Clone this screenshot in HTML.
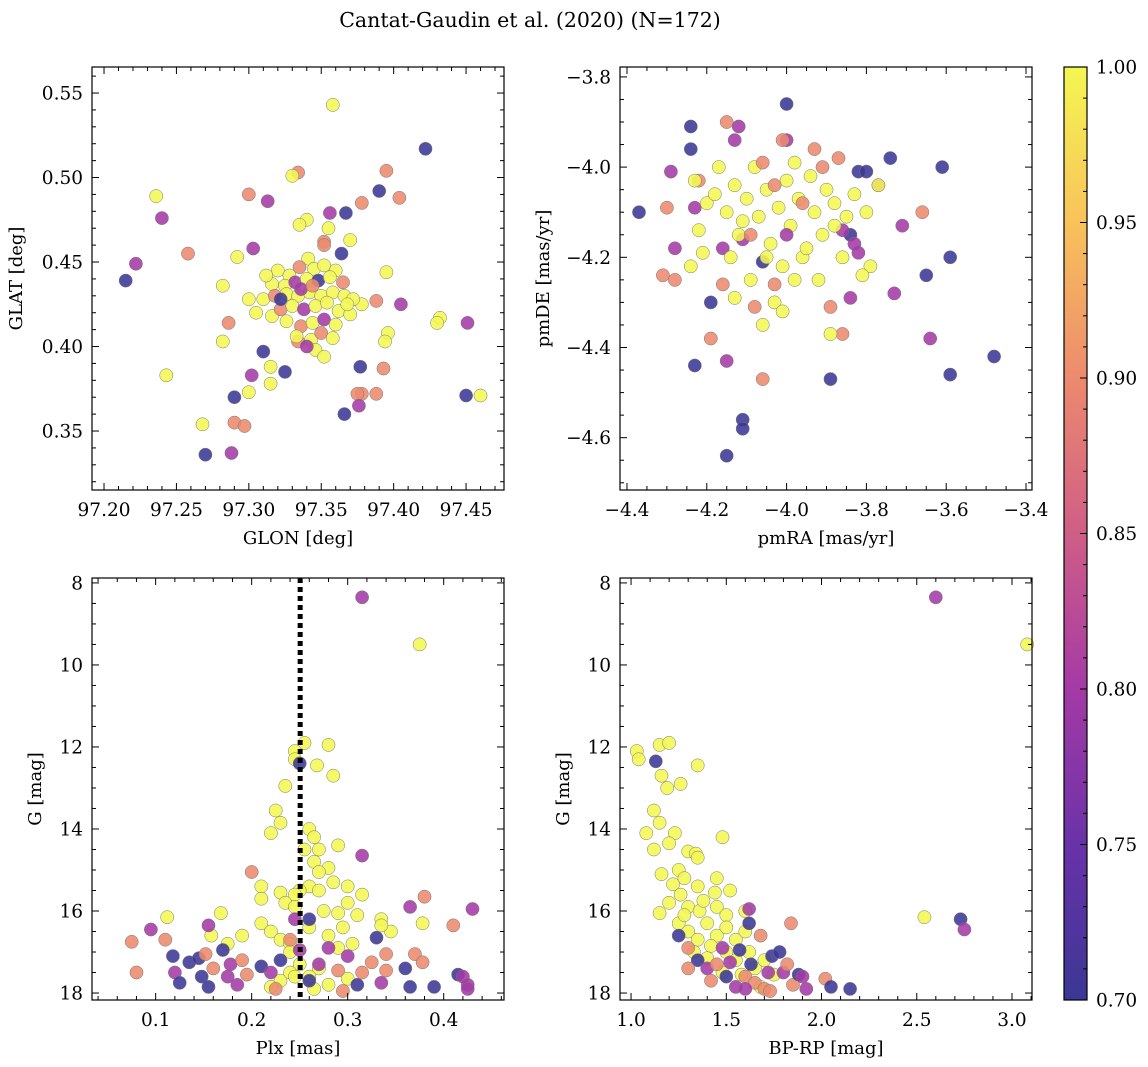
<!DOCTYPE html>
<html><head><meta charset="utf-8">
<style>
html,body{margin:0;padding:0;background:#fff;}
svg{display:block;font-family:"DejaVu Serif","Liberation Serif",serif;}
</style></head>
<body>
<svg id="fig" width="1148" height="1067" viewBox="0 0 1148 1067" xmlns="http://www.w3.org/2000/svg">
<text x="530" y="27" font-size="20.5" text-anchor="middle">Cantat-Gaudin et al. (2020) (N=172)</text>
<defs>
<linearGradient id="cmap" x1="0" y1="1" x2="0" y2="0">
<stop offset="0" stop-color="#3b3795"/><stop offset="0.1667" stop-color="#6a32a8"/>
<stop offset="0.3333" stop-color="#a43aa6"/><stop offset="0.5" stop-color="#cf5e86"/>
<stop offset="0.6667" stop-color="#ec8a6e"/><stop offset="0.8333" stop-color="#f9c25a"/>
<stop offset="1" stop-color="#f4f752"/>
</linearGradient>
</defs>
<g id="plots"></g>
</svg>
<script>
// ---- Panel 1: GLON vs GLAT ----
const p1_glon=[97.358,97.422,97.334,97.330,97.395,97.390,97.404,97.236,97.300,97.313,97.378,97.367,97.356,97.240,97.340,97.335,97.355,97.303,97.352,97.370,97.352,97.258,97.364,97.341,97.292,97.215,97.222,97.282,97.395,97.388,97.378,97.405,97.286,97.316,97.432,97.430,97.451,97.282,97.334,97.310,97.396,97.394,97.243,97.302,97.315,97.315,97.325,97.393,97.377,97.378,97.375,97.388,97.376,97.300,97.290,97.366,97.450,97.460,97.268,97.290,97.297,97.270,97.288,
97.320,97.328,97.335,97.345,97.352,97.360,97.316,97.325,97.332,97.340,97.348,97.356,97.365,97.310,97.318,97.326,97.334,97.342,97.350,97.358,97.366,97.372,97.305,97.322,97.330,97.338,97.346,97.354,97.362,97.370,97.326,97.336,97.344,97.352,97.360,97.333,97.343,97.350,97.358,97.346,97.352,97.340,97.336,97.344,97.322,97.368,97.300,97.312];
const p1_glat=[0.543,0.517,0.503,0.501,0.504,0.492,0.488,0.489,0.490,0.486,0.485,0.479,0.479,0.476,0.475,0.472,0.470,0.458,0.462,0.463,0.460,0.455,0.455,0.452,0.453,0.439,0.449,0.436,0.444,0.427,0.425,0.425,0.414,0.418,0.417,0.414,0.414,0.403,0.403,0.397,0.408,0.403,0.383,0.383,0.388,0.378,0.385,0.387,0.388,0.372,0.372,0.372,0.365,0.373,0.370,0.360,0.371,0.371,0.354,0.355,0.353,0.336,0.337,
0.445,0.442,0.447,0.446,0.448,0.445,0.437,0.436,0.438,0.440,0.439,0.441,0.438,0.428,0.430,0.431,0.430,0.432,0.430,0.432,0.430,0.428,0.420,0.422,0.424,0.422,0.424,0.426,0.421,0.419,0.415,0.412,0.414,0.416,0.413,0.406,0.404,0.408,0.405,0.398,0.394,0.400,0.434,0.436,0.428,0.425,0.428,0.442];
const p1_prob=[1,0.7,0.9,1,0.9,0.7,0.9,1,0.9,0.8,0.9,0.7,0.8,0.8,1,1,1,0.8,0.9,1,0.9,0.9,0.7,1,1,0.7,0.8,1,1,0.9,1,0.8,0.9,1,1,1,0.8,1,0.9,0.7,1,1,1,0.8,1,1,0.7,0.9,0.7,0.9,0.9,0.9,0.8,1,0.7,0.7,0.7,1,1,0.9,0.9,0.7,0.8,
1,1,0.9,1,1,1,1,1,0.8,1,0.7,1,0.9,1,0.9,1,1,1,1,1,1,1,1,0.9,1,0.8,1,1,1,1,1,0.9,1,0.8,1,1,1,0.9,1,1,1,0.8,0.8,0.9,0.7,1,1,1];

// ---- Panel 2: pmRA vs pmDE ----
const p2_pmra=[-4.37,-4.24,-4.24,-4.29,-4.30,-4.31,-4.28,-4.28,-4.23,-4.19,-4.19,-4.15,-4.15,-4.11,-4.11,-4.06,-4.00,-4.00,-4.01,-3.89,-3.86,-3.89,-3.89,-3.84,-3.82,-3.80,-3.74,-3.77,-3.71,-3.66,-3.61,-3.59,-3.59,-3.64,-3.65,-3.48,-3.73,-3.87,-3.93,-4.15,-4.13,-4.12,-3.82,-3.84,-3.86,-3.83,-4.23,-4.22,-4.08,-4.06,-4.03,-4.01,-4.06,-4.11,-4.16,-4.16,-4.03,-3.79,-3.81,-3.77,
-4.23,-4.22,-4.20,-4.18,-4.15,-4.13,-4.12,-4.10,-4.08,-4.07,-4.05,-4.04,-4.02,-4.00,-3.99,-3.97,-3.96,-3.94,-3.93,-3.91,-3.90,-3.88,-3.86,-3.85,-3.83,-4.14,-4.09,-4.05,-4.01,-3.98,-3.95,-4.17,-4.11,-3.98,-3.92,-4.21,-4.24,-4.03,-3.96,-4.09,-3.91,-4.06,-3.88,-4.13,-3.80,-4.00];
const p2_pmde=[-4.10,-3.91,-3.96,-4.01,-4.09,-4.24,-4.25,-4.18,-4.44,-4.30,-4.38,-4.43,-4.64,-4.56,-4.58,-4.47,-3.86,-3.94,-3.94,-4.47,-4.37,-4.31,-4.37,-4.29,-4.01,-4.01,-3.98,-4.04,-4.13,-4.10,-4.00,-4.20,-4.46,-4.38,-4.24,-4.42,-4.28,-3.98,-3.96,-3.90,-3.94,-3.91,-4.19,-4.15,-4.14,-4.17,-4.09,-4.03,-4.31,-4.35,-4.30,-4.32,-4.21,-4.16,-4.18,-4.26,-4.26,-4.22,-4.24,-4.04,
-4.03,-4.14,-4.08,-4.06,-4.10,-4.04,-4.15,-4.07,-4.00,-4.11,-4.05,-4.17,-4.09,-4.03,-4.13,-4.07,-4.20,-4.02,-4.10,-4.15,-4.05,-4.08,-4.20,-4.11,-4.06,-4.20,-4.25,-4.20,-4.22,-4.25,-4.18,-4.00,-4.12,-3.99,-4.25,-4.19,-4.22,-4.04,-4.08,-4.15,-4.00,-3.99,-4.13,-4.29,-4.10,-4.15];
const p2_prob=[0.7,0.7,0.7,0.8,0.9,0.9,0.9,0.8,0.7,0.7,0.9,0.8,0.7,0.7,0.7,0.9,0.7,0.8,0.9,0.7,0.9,0.9,1,0.8,0.7,0.7,0.7,0.8,0.8,0.9,0.7,0.7,0.7,0.8,0.7,0.7,0.8,0.9,0.9,0.9,0.8,0.8,0.8,0.7,0.8,0.8,0.8,0.9,0.9,1,1,1,0.7,0.8,0.8,0.9,0.9,1,1,1,
1,1,1,1,1,1,1,1,1,1,1,1,1,1,1,1,1,1,1,1,1,1,1,1,1,1,1,1,1,1,1,1,1,1,1,1,1,0.9,0.9,0.9,0.9,0.9,1,1,1,0.8];

// ---- Panel 3: Plx vs G ----
const p3_plx=[0.315,0.375,0.255,0.245,0.245,0.25,0.28,0.268,0.285,0.235,0.225,0.23,0.22,0.26,0.265,0.27,0.255,0.29,0.315,0.265,0.28,0.285,0.27,0.26,0.25,0.245,0.23,0.21,0.2,0.21,0.235,0.245,0.27,0.3,0.315,0.3,0.275,0.29,0.31,0.335,0.345,0.335,0.21,0.22,0.23,0.24,0.26,0.28,0.29,0.305,0.24,0.25,0.27,0.26,0.23,0.24,0.22,0.28,0.3,0.265,0.112,0.168,0.158,0.378,0.19,0.175,0.245,0.295,
0.075,0.08,0.095,0.11,0.118,0.12,0.125,0.135,0.145,0.148,0.152,0.155,0.155,0.16,0.17,0.175,0.178,0.185,0.19,0.195,0.21,0.22,0.225,0.23,0.24,0.25,0.26,0.27,0.29,0.295,0.3,0.31,0.315,0.325,0.33,0.335,0.34,0.36,0.365,0.365,0.37,0.378,0.38,0.39,0.41,0.415,0.42,0.425,0.425,0.43,0.245,0.26,0.28,0.34];
const p3_g=[8.35,9.5,11.9,12.1,12.3,12.4,11.95,12.45,12.7,12.95,13.55,13.85,14.1,14.0,14.2,14.5,14.5,14.4,14.65,14.8,14.95,15.3,15.05,15.4,15.5,15.6,15.55,15.4,15.05,15.7,15.8,15.9,15.5,15.4,15.6,15.8,16.0,16.05,16.1,16.2,16.5,16.35,16.3,16.5,16.7,16.8,16.4,16.6,16.9,16.8,17.0,17.3,17.4,17.6,17.7,17.5,17.85,17.8,17.65,17.9,16.15,16.05,16.6,16.3,16.6,16.8,17.6,16.4,
16.75,17.5,16.45,16.7,17.1,17.5,17.75,17.25,17.15,17.6,17.05,17.85,16.35,17.4,16.95,17.6,17.3,17.8,17.2,17.55,17.35,17.5,17.9,17.2,16.7,16.95,17.7,17.3,17.45,17.95,17.1,17.8,17.5,17.25,16.65,17.75,17.05,17.4,17.85,15.9,17.05,17.25,15.65,17.85,16.35,17.55,17.6,17.8,17.9,15.95,16.2,16.2,16.9,17.45];
const p3_prob=[0.8,1,1,1,1,0.7,1,1,1,1,1,1,1,1,1,1,1,1,0.8,1,1,1,1,1,1,1,1,1,0.9,1,1,1,1,1,1,1,1,1,1,1,1,1,1,1,1,1,1,1,1,1,1,1,1,1,1,1,1,1,1,1,1,1,1,1,1,1,1,1,
0.9,0.9,0.8,0.9,0.7,0.8,0.7,0.7,0.7,0.7,0.9,0.7,0.8,0.9,0.7,0.8,0.8,0.8,0.9,0.9,0.7,0.8,0.9,0.7,0.9,0.8,0.7,0.8,0.9,0.9,0.8,0.7,0.9,0.9,0.7,0.8,0.9,0.7,0.7,0.8,0.9,0.9,0.9,0.7,0.9,0.7,0.8,0.8,0.8,0.8,0.8,0.7,0.8,0.9];
const p3_plxRef=[0.2505];

// ---- Panel 4: BP-RP vs G ----
const p4_bprp=[2.6,3.08,2.54,2.73,2.75,1.13,1.03,1.04,1.15,1.2,1.16,1.26,1.19,1.35,1.12,1.08,1.15,1.23,1.2,1.12,1.3,1.34,1.35,1.48,1.16,1.25,1.22,1.28,1.35,1.44,1.52,1.15,1.2,1.26,1.3,1.36,1.38,1.45,1.5,1.25,1.3,1.4,1.45,1.5,1.55,1.6,1.6,1.35,1.42,1.5,1.55,1.62,1.65,1.7,1.48,1.58,1.75,1.68,1.28,1.33,1.4,1.45,
1.25,1.3,1.35,1.4,1.45,1.5,1.52,1.55,1.57,1.6,1.62,1.63,1.65,1.7,1.72,1.74,1.78,1.8,1.82,1.84,1.85,1.88,1.9,1.92,2.02,2.05,2.15,1.3,1.42,1.6,1.73,1.48,1.68,1.62];
const p4_g=[8.35,9.5,16.15,16.2,16.45,12.35,12.1,12.3,11.95,11.9,12.7,12.9,13.0,12.45,13.55,14.1,13.85,14.1,14.35,14.5,14.55,14.6,14.7,14.2,15.1,15.0,15.35,15.2,15.4,15.55,15.5,16.05,15.8,15.6,15.9,16.0,15.75,15.9,16.1,16.3,16.5,16.3,16.6,16.4,16.7,16.0,16.5,16.7,16.85,17.0,17.2,17.0,17.4,17.2,17.5,17.55,17.55,17.85,16.1,17.0,17.15,15.2,
16.6,16.9,17.2,17.4,17.3,17.6,17.25,17.85,16.95,17.6,15.95,17.3,17.75,17.9,17.5,17.1,17.0,17.5,17.3,16.3,17.8,17.55,17.6,17.9,17.65,17.85,17.9,17.4,17.7,17.9,17.95,16.9,16.6,16.3];
const p4_prob=[0.8,1,1,0.7,0.8,0.7,1,1,1,1,1,1,1,1,1,1,1,1,1,1,1,1,1,1,1,1,1,1,1,1,1,1,1,1,1,1,1,1,1,1,1,1,1,1,1,1,1,1,1,1,1,1,1,1,1,1,1,1,1,1,1,1,
0.7,0.9,0.7,0.8,0.9,0.7,0.8,0.8,0.7,0.9,0.8,0.7,0.9,0.9,0.8,0.7,0.7,0.8,0.9,0.9,0.9,0.7,0.8,0.8,0.9,0.7,0.7,0.9,0.9,0.8,0.9,0.8,0.9,0.7];

// ---- Colorbar ticks ----
const cbTicks=[0.70,0.75,0.80,0.85,0.90,0.95,1.00];

const NS="http://www.w3.org/2000/svg";
const root=document.getElementById('plots');
function mk(tag,attrs,parent){const e=document.createElementNS(NS,tag);for(const k in attrs)e.setAttribute(k,attrs[k]);(parent||root).appendChild(e);return e;}
const stops=[[0.7,[59,55,149]],[0.75,[106,50,168]],[0.8,[164,58,166]],[0.85,[207,94,134]],[0.9,[236,138,110]],[0.95,[249,194,90]],[1.0,[244,247,82]]];
function cmap(v){v=Math.max(0.7,Math.min(1,v));for(let i=0;i<stops.length-1;i++){const a=stops[i],b=stops[i+1];if(v<=b[0]){const t=(v-a[0])/(b[0]-a[0]);const c=a[1].map((x,j)=>Math.round(x+(b[1][j]-x)*t));return `rgb(${c.join(',')})`;}}return 'rgb(244,247,82)';}

const TF=18.5, LF=18;
function panel(cfg){
  const {name,L,T,R,B,x0,x1,y0,y1,xMaj,xMin,yMaj,yMin,xDec,yDec,xlabel,ylabel,xs,ys,ps,yLabX}=cfg;
  const g=mk('g',{});
  
  
  const sx=v=>L+(v-x0)/(x1-x0)*(R-L);
  const sy=v=>B-(v-y0)/(y1-y0)*(B-T);
  const cg=mk('g',{},g);
  
  
  for(let i=0;i<xs.length;i++){
    const c=mk('circle',{cx:sx(xs[i]).toFixed(1),cy:sy(ys[i]).toFixed(1),r:6.6,fill:cmap(ps[i]),'fill-opacity':0.88,stroke:'#777','stroke-width':0.5},cg);
    
    
  }
  if(cfg.extra) cfg.extra(g,sx,sy);
  const fr=mk('rect',{x:L,y:T,width:R-L,height:B-T,fill:'none',stroke:'#000','stroke-width':1.2},g);
  
  
  const lo=Math.min(x0,x1),hi=Math.max(x0,x1);
  for(let k=Math.ceil(lo/xMin-1e-6);k*xMin<=hi+1e-9;k++){
    const v=k*xMin,x=sx(v),maj=Math.abs(v/xMaj-Math.round(v/xMaj))<1e-6,len=maj?7:4;
    mk('line',{x1:x,y1:B,x2:x,y2:B-len,stroke:'#000','stroke-width':1},g);
    mk('line',{x1:x,y1:T,x2:x,y2:T+len,stroke:'#000','stroke-width':1},g);
    if(maj){const t=mk('text',{x:x,y:B+26,'font-size':TF,'text-anchor':'middle'},g);t.textContent=v.toFixed(xDec).replace('-','\u2212');
      
      }
  }
  const ylo=Math.min(y0,y1),yhi=Math.max(y0,y1);
  for(let k=Math.ceil(ylo/yMin-1e-6);k*yMin<=yhi+1e-9;k++){
    const v=k*yMin,y=sy(v),maj=Math.abs(v/yMaj-Math.round(v/yMaj))<1e-6,len=maj?7:4;
    mk('line',{x1:L,y1:y,x2:L+len,y2:y,stroke:'#000','stroke-width':1},g);
    mk('line',{x1:R,y1:y,x2:R-len,y2:y,stroke:'#000','stroke-width':1},g);
    if(maj){const t=mk('text',{x:L-9,y:y+6.5,'font-size':TF,'text-anchor':'end'},g);t.textContent=v.toFixed(yDec).replace('-','\u2212');
      
      }
  }
  const xl=mk('text',{x:(L+R)/2,y:B+54,'font-size':LF,'text-anchor':'middle'},g);xl.textContent=xlabel;
  
  
  const yl=mk('text',{x:0,y:0,'font-size':LF,'text-anchor':'middle',transform:`translate(${yLabX},${(T+B)/2}) rotate(-90)`},g);yl.textContent=ylabel;
  
  
}

panel({name:'glon-glat-panel',L:92,T:67,R:504,B:490,x0:97.1917,x1:97.4762,y0:0.3151,y1:0.5654,xMaj:0.05,xMin:0.01,yMaj:0.05,yMin:0.01,xDec:2,yDec:2,xlabel:'GLON [deg]',ylabel:'GLAT [deg]',xs:p1_glon,ys:p1_glat,ps:p1_prob,yLabX:22});
panel({name:'pm-panel',L:620,T:67,R:1032,B:490,x0:-4.4175,x1:-3.385,y0:-4.716,y1:-3.778,xMaj:0.2,xMin:0.05,yMaj:0.2,yMin:0.05,xDec:1,yDec:1,xlabel:'pmRA [mas/yr]',ylabel:'pmDE [mas/yr]',xs:p2_pmra,ys:p2_pmde,ps:p2_prob,yLabX:549});
panel({name:'plx-g-panel',L:92,T:578,R:504,B:1000,x0:0.0337,x1:0.4628,y0:18.17,y1:7.88,xMaj:0.1,xMin:0.02,yMaj:2,yMin:0.5,xDec:1,yDec:0,xlabel:'Plx [mas]',ylabel:'G [mag]',xs:p3_plx,ys:p3_g,ps:p3_prob,yLabX:41,
  extra:(g,sx,sy)=>{p3_plxRef.forEach(v=>{const l=mk('line',{x1:sx(v),y1:578,x2:sx(v),y2:1000,stroke:'#000','stroke-width':5,'stroke-dasharray':'5,4'},g);
    
    });}});
panel({name:'cmd-panel',L:620,T:578,R:1032,B:1000,x0:0.942,x1:3.105,y0:18.17,y1:7.88,xMaj:0.5,xMin:0.1,yMaj:2,yMin:0.5,xDec:1,yDec:0,xlabel:'BP-RP [mag]',ylabel:'G [mag]',xs:p4_bprp,ys:p4_g,ps:p4_prob,yLabX:569});

// colorbar
const cb=mk('g',{});


const cL=1064,cR=1087,cT=67,cB=1000;
mk('rect',{x:cL,y:cT,width:cR-cL,height:cB-cT,fill:'url(#cmap)',stroke:'#000','stroke-width':1.2},cb);
const cy=v=>cB-(v-0.7)/0.3*(cB-cT);
for(let k=70;k<=100;k++){const v=k/100,y=cy(v),maj=k%5===0;
  mk('line',{x1:cR,y1:y,x2:cR-(maj?7:4),y2:y,stroke:'#000','stroke-width':1},cb);}
cbTicks.forEach(v=>{const t=mk('text',{x:cR+9,y:cy(v)+6.5,'font-size':TF},cb);t.textContent=v.toFixed(2);
  
  });
</script>
</body></html>
